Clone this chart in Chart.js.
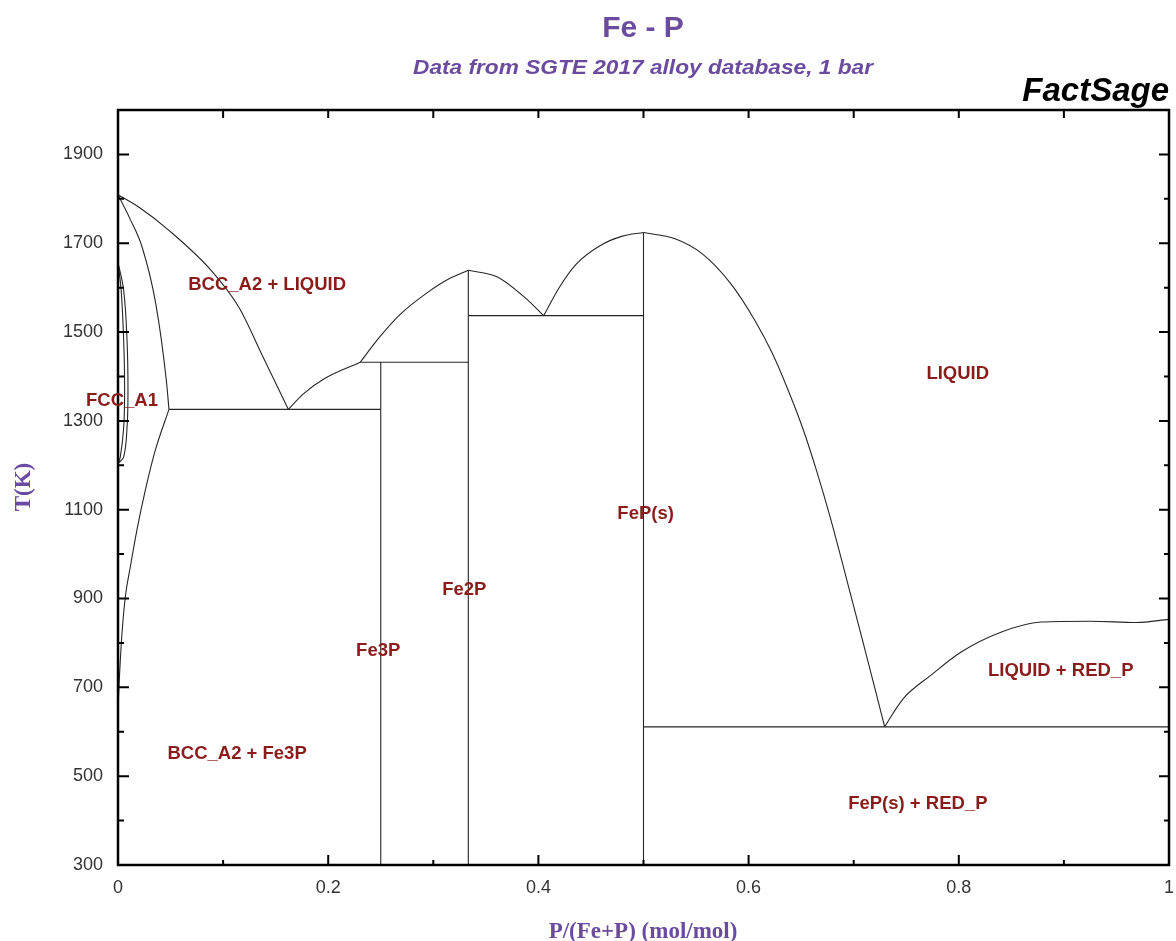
<!DOCTYPE html>
<html><head><meta charset="utf-8">
<script src="https://cdn.jsdelivr.net/npm/chart.js@4.4.1/dist/chart.umd.min.js"></script>
<style>html,body{margin:0;padding:0;background:#fff;}canvas{display:block;}</style>
</head><body>
<canvas id="c" width="1176" height="941"></canvas>
<script>
// ---- axis ticks ----
const xTickValues = [0, 0.2, 0.4, 0.6, 0.8, 1];
const xTickLabels = ['0', '0.2', '0.4', '0.6', '0.8', '1'];
const xMinorValues = [0.1, 0.3, 0.5, 0.7, 0.9];
const yTickValues = [300, 500, 700, 900, 1100, 1300, 1500, 1700, 1900];
const yMinorValues = [400, 600, 800, 1000, 1200, 1400, 1600, 1800];

// ---- phase boundaries [x = P/(Fe+P), T(K)] ----
const liquidusFe = [[0,1809],[0.02,1781],[0.049,1728],[0.0886,1639],[0.115,1556],[0.138,1444],[0.162,1326]];
const solidusBcc = [[0,1809],[0.012,1752],[0.023,1691],[0.036,1563],[0.046,1391],[0.0485,1326]];
const solvusBcc = [[0.0485,1326],[0.0355,1234],[0.026,1144],[0.018,1054],[0.0117,971],[0.007,904],[0.0038,822],[0.0022,761],[0.0012,716],[0.0004,670],[0,630]];
const gammaOuter = [[0,1657],[0.0054,1594],[0.0086,1481],[0.0095,1369],[0.0086,1285],[0.0054,1219],[0,1204]];
const gammaInner = [[0,1657],[0.003,1594],[0.0054,1481],[0.0063,1369],[0.0054,1285],[0.0022,1219],[0,1204]];
const eutecticFe3P = [[0.0485,1326],[0.25,1326]];
const liquidusFe3P = [[0.162,1326],[0.177,1362],[0.197,1396],[0.2305,1432]];
const peritecticFe3P = [[0.2305,1432],[0.3333,1432]];
const lineFe3P = [[0.25,1432],[0.25,300]];
const liquidusFe2PLeft = [[0.2305,1432],[0.249,1489],[0.269,1541],[0.295,1590],[0.315,1620],[0.3333,1639]];
const liquidusFe2PRight = [[0.3333,1639],[0.361,1624],[0.387,1578],[0.405,1537]];
const lineFe2P = [[0.3333,1639],[0.3333,300]];
const eutecticFe2PFeP = [[0.3333,1537],[0.5,1537]];
const liquidusFePLeft = [[0.405,1537],[0.42,1601],[0.436,1653],[0.459,1695],[0.48,1716],[0.5,1724]];
const liquidusFePRight = [[0.5,1724],[0.53,1710],[0.556,1676],[0.583,1609],[0.606,1526],[0.623,1450],[0.639,1361],[0.652,1280],[0.6645,1189],[0.678,1080],[0.691,964],[0.7075,814],[0.7198,701],[0.7295,611]];
const lineFeP = [[0.5,1724],[0.5,300]];
const eutecticFePRedP = [[0.5,611],[1,611]];
const liquidusRedP = [[0.7295,611],[0.737,640],[0.7476,676],[0.7733,727],[0.8019,779],[0.84,824],[0.878,847],[0.926,849],[0.969,846],[1,853]];

// ---- phase field labels ----
const fieldLabels = ['BCC_A2 + LIQUID','FCC_A1','LIQUID','FeP(s)','Fe2P','Fe3P','BCC_A2 + Fe3P','LIQUID + RED_P','FeP(s) + RED_P'];
const fieldLabelX = [0.1419, 0.0038, 0.799, 0.502, 0.3295, 0.2476, 0.1133, 0.897, 0.761];
const fieldLabelT = [1607, 1344, 1405, 1090, 919, 781, 550, 736, 437];

const monotoneCurves = [liquidusFe, solidusBcc, solvusBcc, liquidusFe3P,
  liquidusFe2PLeft, liquidusFe2PRight, liquidusFePLeft, liquidusFePRight, liquidusRedP];
const loopCurves = [gammaOuter, gammaInner];
const straights = [eutecticFe3P, peritecticFe3P, lineFe3P, lineFe2P, eutecticFe2PFeP, lineFeP, eutecticFePRedP];

const toPts = arr => arr.map(p => ({x: p[0], y: p[1]}));
const base = {showLine: true, pointRadius: 0, borderColor: '#262626', borderWidth: 1.1, fill: false};
const datasets = [];
monotoneCurves.forEach(c => datasets.push(Object.assign({data: toPts(c), cubicInterpolationMode: 'monotone'}, base)));
loopCurves.forEach(c => datasets.push(Object.assign({data: toPts(c), tension: 0.4}, base)));
straights.forEach(c => datasets.push(Object.assign({data: toPts(c), tension: 0}, base)));

function fitText(ctx, text, x, y, width) {
  const w = ctx.measureText(text).width;
  ctx.save();
  ctx.translate(x, y);
  ctx.scale(width / w, 1);
  ctx.fillText(text, 0, 0);
  ctx.restore();
}

const decor = {
  id: 'decor',
  afterDraw(chart) {
    const ctx = chart.ctx, xs = chart.scales.x, ys = chart.scales.y, a = chart.chartArea;
    ctx.save();
    // ticks (inward)
    ctx.strokeStyle = '#000';
    ctx.lineWidth = 2;
    ctx.beginPath();
    xTickValues.forEach(v => { const px = xs.getPixelForValue(v); ctx.moveTo(px, a.bottom); ctx.lineTo(px, a.bottom - 10); });
    xMinorValues.forEach(v => { const px = xs.getPixelForValue(v); ctx.moveTo(px, a.bottom); ctx.lineTo(px, a.bottom - 5); });
    xTickValues.concat(xMinorValues).forEach(v => { const px = xs.getPixelForValue(v); ctx.moveTo(px, a.top); ctx.lineTo(px, a.top + 8); });
    yTickValues.forEach(v => { const py = ys.getPixelForValue(v); ctx.moveTo(a.left, py); ctx.lineTo(a.left + 11, py); ctx.moveTo(a.right, py); ctx.lineTo(a.right - 10, py); });
    yMinorValues.forEach(v => { const py = ys.getPixelForValue(v); ctx.moveTo(a.left, py); ctx.lineTo(a.left + 6, py); ctx.moveTo(a.right, py); ctx.lineTo(a.right - 5, py); });
    ctx.stroke();
    // frame
    ctx.lineWidth = 2.5;
    ctx.strokeRect(a.left, a.top, a.right - a.left, a.bottom - a.top);
    // field labels
    ctx.fillStyle = '#8b1c1c';
    ctx.font = 'bold 18.5px "Liberation Sans", Arial, sans-serif';
    ctx.textAlign = 'center';
    ctx.textBaseline = 'middle';
    fieldLabels.forEach((t, i) => ctx.fillText(t, xs.getPixelForValue(fieldLabelX[i]), ys.getPixelForValue(fieldLabelT[i])));
    // titles
    ctx.fillStyle = '#6a4ba0';
    ctx.font = 'bold 30px "Liberation Sans", Arial, sans-serif';
    ctx.textBaseline = 'alphabetic';
    ctx.fillText('Fe - P', 643, 37);
    ctx.font = 'italic bold 20.5px "Liberation Sans", Arial, sans-serif';
    fitText(ctx, 'Data from SGTE 2017 alloy database, 1 bar', 643, 74, 460);
    ctx.fillStyle = '#000';
    ctx.textAlign = 'right';
    ctx.font = 'italic bold 33px "Liberation Sans", Arial, sans-serif';
    ctx.fillText('FactSage', 1169, 101);
    // axis titles
    ctx.fillStyle = '#6a4ba0';
    ctx.textAlign = 'center';
    ctx.font = 'bold 23px "Liberation Serif", "Times New Roman", serif';
    ctx.fillText('P/(Fe+P) (mol/mol)', 643, 938);
    ctx.translate(30, 487);
    ctx.rotate(-Math.PI / 2);
    ctx.fillText('T(K)', 0, 0);
    ctx.restore();
  }
};

new Chart(document.getElementById('c'), {
  type: 'scatter',
  data: {datasets},
  options: {
    responsive: false,
    devicePixelRatio: 1,
    animation: false,
    layout: {padding: {left: 0, top: 110, right: 0, bottom: 0}},
    plugins: {legend: {display: false}, tooltip: {enabled: false}},
    scales: {
      x: {
        type: 'linear', min: 0, max: 1,
        afterBuildTicks: s => { s.ticks = xTickValues.map(v => ({value: v})); },
        afterFit: s => { s.height = 76; s.paddingRight = 7; s.paddingLeft = 0; },
        grid: {display: false, drawTicks: false},
        border: {display: false},
        ticks: {
          padding: 12, color: '#333',
          font: {family: '"Liberation Sans", Arial, sans-serif', size: 18},
          callback: v => { const i = xTickValues.indexOf(v); return i >= 0 ? xTickLabels[i] : ''; },
          maxRotation: 0, autoSkip: false
        }
      },
      y: {
        type: 'linear', min: 300, max: 2000,
        afterBuildTicks: s => { s.ticks = yTickValues.map(v => ({value: v})); },
        afterFit: s => { s.width = 118; s.paddingTop = 0; s.paddingBottom = 0; },
        grid: {display: false, drawTicks: false},
        border: {display: false},
        ticks: {
          padding: 15, color: '#333',
          font: {family: '"Liberation Sans", Arial, sans-serif', size: 18},
          callback: v => String(v), autoSkip: false
        }
      }
    }
  },
  plugins: [decor]
});
</script>
</body></html>
